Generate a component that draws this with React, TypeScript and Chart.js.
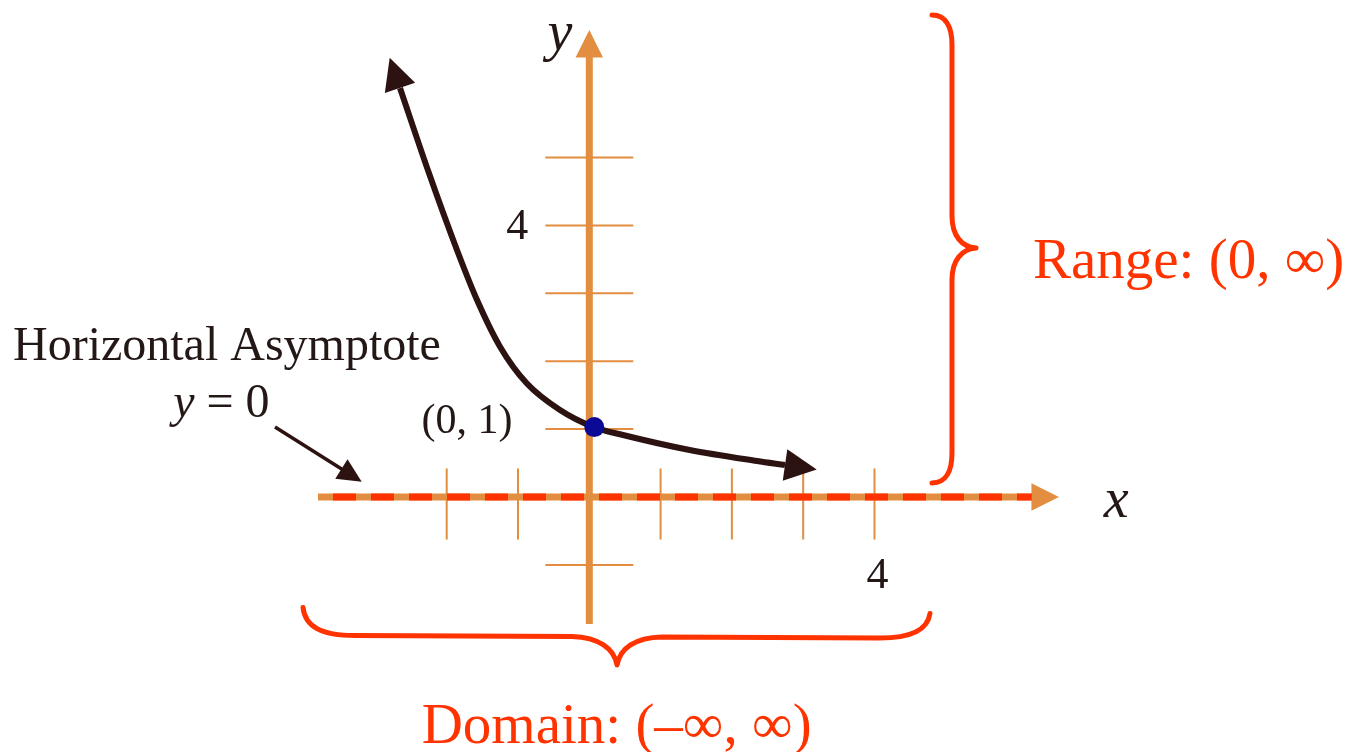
import React, { useEffect, useRef } from "react";
import { Chart, registerables } from "chart.js";

Chart.register(...registerables);

// ---- data (axis units) ----
const curveX = [-2.655, -2.248, -1.856, -1.579, -1.252, -0.878, -0.411, 0.048, 0.473, 1.408, 2.352, 2.745];
const curveY = [6.024, 4.767, 3.638, 2.912, 2.214, 1.675, 1.281, 1.035, 0.913, 0.692, 0.53, 0.471];

const keyPointX = [0.07];
const keyPointY = [1.03];
const keyPointLabel = "(0, 1)";

const asymptoteX = [-3.805, 6.205];
const asymptoteY = [0, 0];

const xTicks = [-2, -1, 1, 2, 3, 4];
const yTicks = [-1, 1, 2, 3, 4, 5];
const xTickLabelValues = [4];
const xTickLabelTexts = ["4"];
const yTickLabelValues = [4];
const yTickLabelTexts = ["4"];

const xAxisSpan = [-3.805, 6.587]; // from left end to arrow tip
const yAxisSpan = [-1.87, 6.878]; // from bottom end to arrow tip

// view window
const X_MIN = -8.265;
const X_MAX = 10.627;
const Y_MIN = -3.7555;
const Y_MAX = 7.3196;

// annotations (axis units)
const asymptoteTitle = "Horizontal Asymptote";
const asymptoteTitlePos = [-8.083, 2.018];
const asymptoteEqPos = [-5.836, 1.178];
const pointerFrom = [-4.408, 1.031];
const pointerTo = [-3.192, 0.225];

const rangeText = "Range: (0, \u221E)";
const rangeTextPos = [6.223, 3.225];
const rangeBrace = { x: 5.087, yLow: 0.206, yHigh: 7.099, cusp: 3.667 };

const domainText = "Domain: (\u2013\u221E, \u221E)";
const domainTextPos = [-2.351, -3.623];
const domainBrace = { y: -2.054, xLow: -4.015, xHigh: 4.778, cusp: 0.389 };

const xAxisTitlePos = [7.388, -0.295];
const yAxisTitlePos = [-0.411, 6.583];

// ---- styles ----
const ORANGE = "#E28D40";
const RED = "#FF3300";
const CURVE = "#2C1311";
const NAVY = "#0A0A96";
const INK = "#231815";
const SERIF = '"Liberation Serif", "Times New Roman", serif';

function arrowHead(ctx: CanvasRenderingContext2D, tipX: number, tipY: number, ang: number, len: number, halfW: number) {
  const bx = tipX - len * Math.cos(ang);
  const by = tipY - len * Math.sin(ang);
  const px = -Math.sin(ang);
  const py = Math.cos(ang);
  ctx.beginPath();
  ctx.moveTo(tipX, tipY);
  ctx.lineTo(bx + px * halfW, by + py * halfW);
  ctx.lineTo(bx - px * halfW, by - py * halfW);
  ctx.closePath();
  ctx.fill();
}

const diagramPlugin = {
  id: "diagram",
  beforeDatasetsDraw(chart: any) {
    const ctx: CanvasRenderingContext2D = chart.ctx;
    const X = (v: number) => chart.scales.x.getPixelForValue(v);
    const Y = (v: number) => chart.scales.y.getPixelForValue(v);
    const ox = X(0);
    const oy = Y(0);
    ctx.save();
    // tick marks
    ctx.strokeStyle = ORANGE;
    ctx.lineWidth = 2;
    xTicks.forEach((t) => {
      ctx.beginPath();
      ctx.moveTo(X(t), oy - 28.5);
      ctx.lineTo(X(t), oy + 42.5);
      ctx.stroke();
    });
    yTicks.forEach((t) => {
      ctx.beginPath();
      ctx.moveTo(ox - 44, Y(t));
      ctx.lineTo(ox + 44, Y(t));
      ctx.stroke();
    });
    // axis lines
    const AL = 27.5;
    const AW = 13.7;
    ctx.lineWidth = 7;
    ctx.beginPath();
    ctx.moveTo(X(xAxisSpan[0]), oy);
    ctx.lineTo(X(xAxisSpan[1]) - AL + 1, oy);
    ctx.stroke();
    ctx.beginPath();
    ctx.moveTo(ox, Y(yAxisSpan[0]));
    ctx.lineTo(ox, Y(yAxisSpan[1]) + AL - 1);
    ctx.stroke();
    ctx.fillStyle = ORANGE;
    arrowHead(ctx, X(xAxisSpan[1]), oy, 0, AL, AW);
    arrowHead(ctx, ox, Y(yAxisSpan[1]), -Math.PI / 2, AL, AW);

    // tick labels
    ctx.fillStyle = INK;
    ctx.font = `44px ${SERIF}`;
    ctx.textAlign = "center";
    ctx.textBaseline = "alphabetic";
    xTickLabelValues.forEach((v, i) => ctx.fillText(xTickLabelTexts[i], X(v) + 3, oy + 91));
    yTickLabelValues.forEach((v, i) => ctx.fillText(yTickLabelTexts[i], ox - 72, Y(v) + 14));
    ctx.restore();
  },
  afterDatasetsDraw(chart: any) {
    const ctx: CanvasRenderingContext2D = chart.ctx;
    const X = (v: number) => chart.scales.x.getPixelForValue(v);
    const Y = (v: number) => chart.scales.y.getPixelForValue(v);
    ctx.save();

    // curve arrowheads
    const pts = chart.getDatasetMeta(1).data;
    ctx.fillStyle = CURVE;
    const a0 = Math.atan2(pts[0].y - pts[1].y, pts[0].x - pts[1].x);
    const L = 32;
    arrowHead(ctx, pts[0].x + L * Math.cos(a0), pts[0].y + L * Math.sin(a0), a0, L, 16);
    const n = pts.length;
    const a1 = Math.atan2(pts[n - 1].y - pts[n - 2].y, pts[n - 1].x - pts[n - 2].x);
    arrowHead(ctx, pts[n - 1].x + L * Math.cos(a1), pts[n - 1].y + L * Math.sin(a1), a1, L, 16);

    // axis titles
    ctx.fillStyle = INK;
    ctx.textAlign = "center";
    ctx.textBaseline = "alphabetic";
    ctx.font = `italic 56px ${SERIF}`;
    ctx.fillText("x", X(xAxisTitlePos[0]), Y(xAxisTitlePos[1]));
    ctx.fillText("y", X(yAxisTitlePos[0]), Y(yAxisTitlePos[1]));

    // key point label
    ctx.font = `42px ${SERIF}`;
    ctx.fillText(keyPointLabel, X(-1.715), Y(0.943));

    // asymptote note
    ctx.textAlign = "left";
    ctx.font = `48px ${SERIF}`;
    ctx.fillText(asymptoteTitle, X(asymptoteTitlePos[0]), Y(asymptoteTitlePos[1]));
    const ex = X(asymptoteEqPos[0]);
    const ey = Y(asymptoteEqPos[1]);
    ctx.font = `italic 48px ${SERIF}`;
    ctx.fillText("y", ex, ey);
    const yw = ctx.measureText("y").width;
    ctx.font = `48px ${SERIF}`;
    ctx.fillText(" = 0", ex + yw, ey);

    // pointer arrow
    const fx = X(pointerFrom[0]);
    const fy = Y(pointerFrom[1]);
    const tx = X(pointerTo[0]);
    const ty = Y(pointerTo[1]);
    const pa = Math.atan2(ty - fy, tx - fx);
    ctx.strokeStyle = CURVE;
    ctx.fillStyle = CURVE;
    ctx.lineWidth = 3.5;
    ctx.beginPath();
    ctx.moveTo(fx, fy);
    ctx.lineTo(tx - 20 * Math.cos(pa), ty - 20 * Math.sin(pa));
    ctx.stroke();
    arrowHead(ctx, tx, ty, pa, 24, 11.5);

    // braces
    ctx.strokeStyle = RED;
    ctx.lineWidth = 5;
    ctx.lineCap = "round";
    ctx.lineJoin = "round";
    {
      const bx = X(rangeBrace.x);
      const top = Y(rangeBrace.yHigh);
      const bot = Y(rangeBrace.yLow);
      const cy = Y(rangeBrace.cusp);
      ctx.beginPath();
      ctx.moveTo(bx - 20, top);
      ctx.bezierCurveTo(bx - 6, top, bx, top + 12, bx, top + 30);
      ctx.lineTo(bx, cy - 32);
      ctx.bezierCurveTo(bx, cy - 12, bx + 10, cy - 1, bx + 24, cy);
      ctx.bezierCurveTo(bx + 10, cy + 1, bx, cy + 12, bx, cy + 32);
      ctx.lineTo(bx, bot - 30);
      ctx.bezierCurveTo(bx, bot - 12, bx - 6, bot, bx - 20, bot);
      ctx.stroke();
    }
    {
      const by = Y(domainBrace.y);
      const l = X(domainBrace.xLow);
      const r = X(domainBrace.xHigh);
      const cx = X(domainBrace.cusp);
      ctx.beginPath();
      ctx.moveTo(l, by - 29);
      ctx.bezierCurveTo(l + 2, by - 10, l + 18, by - 1, l + 52, by - 1);
      ctx.lineTo(cx - 45, by);
      ctx.bezierCurveTo(cx - 18, by + 1, cx - 3, by + 12, cx, by + 28.5);
      ctx.bezierCurveTo(cx + 3, by + 12, cx + 18, by + 1, cx + 45, by + 0.5);
      ctx.lineTo(r - 50, by + 1.5);
      ctx.bezierCurveTo(r - 16, by + 1.5, r - 2, by - 8, r, by - 23);
      ctx.stroke();
    }

    // range / domain text
    ctx.fillStyle = RED;
    ctx.textAlign = "left";
    ctx.font = `57px ${SERIF}`;
    ctx.fillText(rangeText, X(rangeTextPos[0]), Y(rangeTextPos[1]));
    ctx.font = `57px ${SERIF}`;
    ctx.fillText(domainText, X(domainTextPos[0]), Y(domainTextPos[1]));

    ctx.restore();
  },
};

export default function App() {
  const ref = useRef<HTMLCanvasElement | null>(null);
  useEffect(() => {
    if (!ref.current) return;
    const chart = new Chart(ref.current, {
      type: "line",
      data: {
        datasets: [
          {
            label: "key point",
            data: keyPointX.map((x, i) => ({ x, y: keyPointY[i] })),
            showLine: false,
            pointRadius: 10,
            pointBackgroundColor: NAVY,
            pointBorderColor: NAVY,
            pointBorderWidth: 0,
            order: 0,
          },
          {
            label: "curve",
            data: curveX.map((x, i) => ({ x, y: curveY[i] })),
            borderColor: CURVE,
            borderWidth: 6,
            pointRadius: 0,
            cubicInterpolationMode: "monotone",
            fill: false,
            order: 1,
          },
          {
            label: "asymptote",
            data: asymptoteX.map((x, i) => ({ x, y: asymptoteY[i] })),
            borderColor: RED,
            borderWidth: 7,
            borderDash: [23, 15],
            borderDashOffset: 23,
            pointRadius: 0,
            fill: false,
            order: 2,
          },
        ],
      },
      options: {
        animation: false,
        responsive: false,
        events: [],
        layout: { padding: 0, autoPadding: false },
        scales: {
          x: { type: "linear", min: X_MIN, max: X_MAX, display: false },
          y: { type: "linear", min: Y_MIN, max: Y_MAX, display: false },
        },
        plugins: { legend: { display: false }, tooltip: { enabled: false } },
      },
      plugins: [diagramPlugin],
    } as any);
    return () => chart.destroy();
  }, []);
  return (
    <div style={{ position: "absolute", left: 0, top: 0, width: 1347, height: 752, background: "#fff" }}>
      <canvas ref={ref} width={1347} height={752} style={{ display: "block" }} />
    </div>
  );
}
